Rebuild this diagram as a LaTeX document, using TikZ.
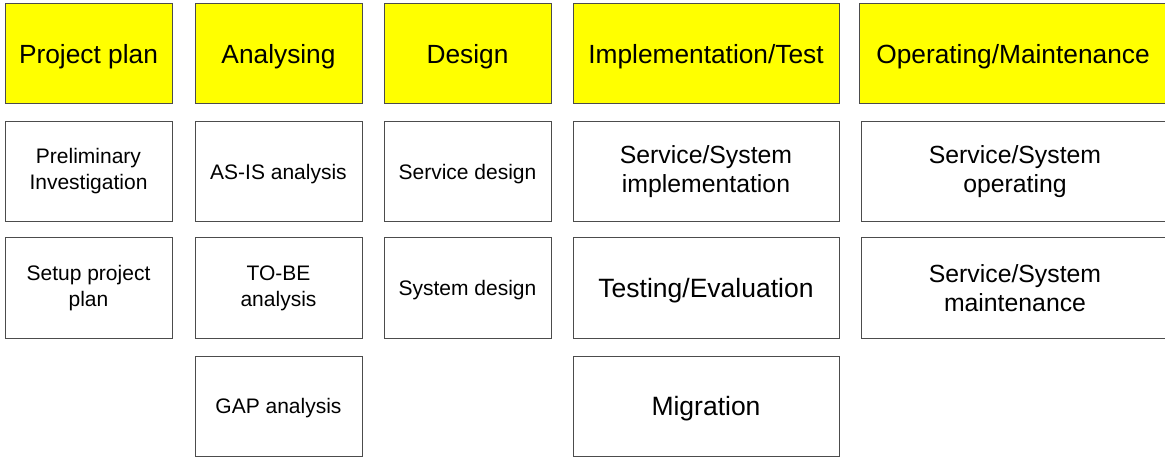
\documentclass[tikz,border=0pt]{standalone}
\usepackage{fontspec}
\setmainfont{Liberation Sans}

\definecolor{headyellow}{RGB}{255,255,0}
\tikzset{
  headbox/.style={draw=black!70, fill=headyellow, line width=1pt, inner sep=0pt,
    minimum height=100pt, text depth=0pt, font=\fontsize{26.3}{31}\selectfont},
  taskbox/.style={draw=black!70, fill=white, line width=1pt, inner sep=0pt,
    minimum height=100pt, align=center, font=\fontsize{21}{26}\selectfont},
  bigtask/.style={taskbox, font=\fontsize{24.8}{29}\selectfont},
  hugetask/.style={taskbox, font=\fontsize{26.5}{31}\selectfont},
  oneline/.style={text depth=0pt},
}

\begin{document}
\begin{tikzpicture}[x=1pt, y=-1pt]
% Page frame (1 unit = 1 pixel of the reference)
\useasboundingbox (0,0) rectangle (1165,457);
\def\narrow{167pt} % columns 1-3
\def\wide{266pt}   % column 4
\def\widest{308pt} % column 5, runs off the right edge

% Phase headers
\node[headbox, minimum width=\narrow] (plan) at (88.5, 54) {Project plan};
\node[headbox, minimum width=\narrow] (analysing) at (278.5, 54) {Analysing};
\node[headbox, minimum width=\narrow] (design) at (467.5, 54) {Design};
\node[headbox, minimum width=\wide] (impl) at (706, 54) {Implementation/Test};
\node[headbox, minimum width=\widest] (oper) at (1013, 54) {Operating/Maintenance};

% Project plan
\node[taskbox, minimum width=\narrow] (prelim) at (88.5, 171.5) {Preliminary\\Investigation};
\node[taskbox, minimum width=\narrow] (setup) at (88.5, 288) {Setup project\\plan};

% Analysing
\node[taskbox, oneline, minimum width=\narrow] (asis) at (278.5, 171.5) {AS-IS analysis};
\node[taskbox, minimum width=\narrow] (tobe) at (278.5, 288) {TO-BE\\analysis};
\node[taskbox, oneline, minimum width=\narrow] (gap) at (278.5, 406) {GAP analysis};

% Design
\node[taskbox, oneline, minimum width=\narrow] (servdes) at (467.5, 171.5) {Service design};
\node[taskbox, oneline, minimum width=\narrow] (sysdes) at (467.5, 288) {System design};

% Implementation/Test
\node[bigtask, minimum width=\wide] (sysimpl) at (706, 171.5) {Service/System\\implementation};
\node[hugetask, oneline, minimum width=\wide] (testing) at (706, 288) {Testing/Evaluation};
\node[hugetask, oneline, minimum width=\wide] (migration) at (706, 406) {Migration};

% Operating/Maintenance
\node[bigtask, minimum width=\widest] (sysoper) at (1015, 171.5) {Service/System\\operating};
\node[bigtask, minimum width=\widest] (sysmaint) at (1015, 288) {Service/System\\maintenance};
\end{tikzpicture}
\end{document}
